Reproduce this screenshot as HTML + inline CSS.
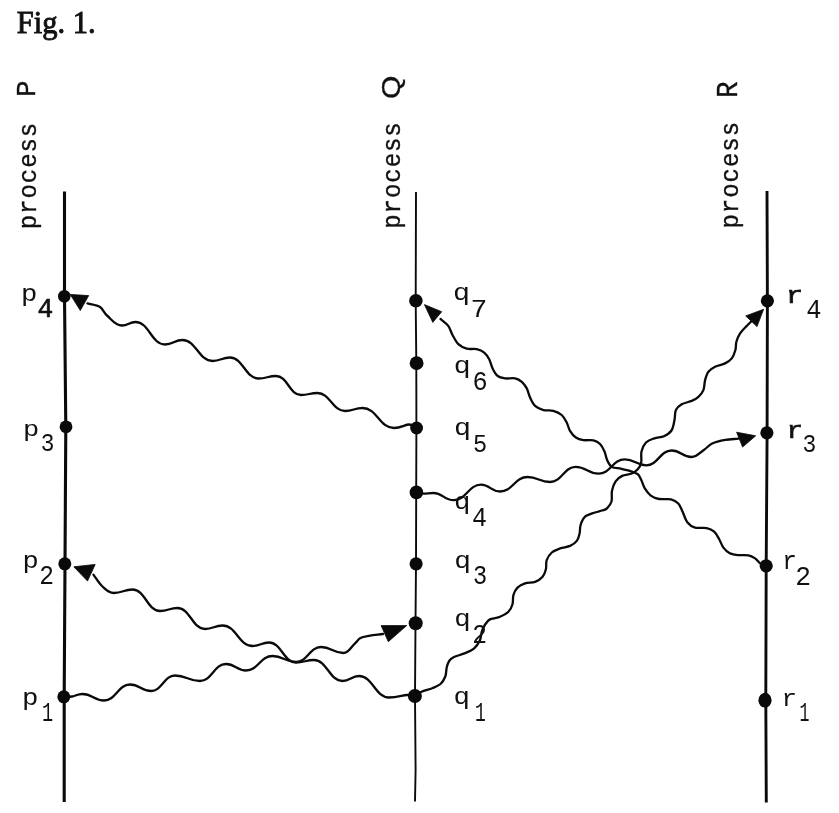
<!DOCTYPE html>
<html><head><meta charset="utf-8"><title>Fig. 1.</title>
<style>
html,body{margin:0;padding:0;background:#fff;}
body{width:839px;height:813px;overflow:hidden;position:relative;}
svg{position:absolute;left:0;top:0;display:block;}
.cap{font-family:"Liberation Serif",serif;font-size:30.5px;fill:#111;stroke:#111;stroke-width:0.9px;}
.m{font-family:"Liberation Mono",monospace;fill:#111;}
.proc{font-size:26px;stroke:#111;stroke-width:0.35px;}
.capl{font-size:28px;}
</style></head><body>
<svg width="839" height="813" viewBox="0 0 839 813">
<rect width="839" height="813" fill="#fff"/>
<text class="cap" x="16.8" y="33">Fig. 1.</text>
<g class="m proc">
<text transform="translate(36,229.3) rotate(-90) scale(0.923,1)" style="letter-spacing:1.05px">process</text>
<text transform="translate(34.8,96.9) rotate(-90)" font-size="27.6">P</text>
<text transform="translate(400.3,228.8) rotate(-90) scale(0.923,1)" style="letter-spacing:1.05px">process</text>
<text transform="translate(399.5,99) rotate(-90) scale(1.16,1)" font-size="25.9" font-family="Liberation Sans, sans-serif">Q</text>
<text transform="translate(737.9,228.5) rotate(-90) scale(0.923,1)" style="letter-spacing:1.05px">process</text>
<text transform="translate(736.9,98.1) rotate(-90) scale(0.96,1)" font-size="28.8">R</text>
</g>
<g fill="none" stroke="#0a0a0a" stroke-linecap="round" stroke-linejoin="round">
<polyline points="64.5,191.5 64.5,296 65.8,427 65,564 64.2,697 64.2,802" stroke-width="3.1" stroke-linecap="butt"/>
<polyline points="416,192 415.7,301 416.3,363 416.4,428 416.2,492 416,564 415.5,623 415,696 415.6,770 415,801.5" stroke-width="1.9" stroke-linecap="butt"/>
<polyline points="767,191 767.4,301 767.1,433 766.2,565 765.8,700 766.3,802.5" stroke-width="2.9" stroke-linecap="butt"/>
<path d="M87.5 303.4 C91.7 304.6 96.7 304.9 100.0 307.0 C103.3 309.1 103.8 312.9 107.5 316.0 C111.2 319.1 115.3 325.5 122.0 325.5 C128.2 325.5 129.3 322.0 135.5 322.0 C149.1 322.0 151.4 344.5 165.0 344.5 C173.1 344.5 174.4 340.0 182.5 340.0 C196.3 340.0 198.7 361.0 212.5 361.0 C220.6 361.0 221.9 357.5 230.0 357.5 C243.1 357.5 245.4 378.5 258.5 378.5 C266.6 378.5 267.9 376.0 276.0 376.0 C287.5 376.0 289.5 395.0 301.0 395.0 C308.6 395.0 309.9 393.0 317.5 393.0 C330.1 393.0 332.4 411.0 345.0 411.0 C353.1 411.0 354.4 408.0 362.5 408.0 C377.0 408.0 379.5 428.0 394.0 428.0 C400.9 428.0 405.3 424.5 409.0 424.5 C412.7 424.5 413.7 426.8 416.0 428.0" stroke-width="2.3"/>
<path d="M93.4 574.6 C96.3 578.4 98.6 582.9 102.0 586.0 C105.4 589.1 108.3 593.0 113.8 593.0 C122.4 593.0 123.9 589.5 132.5 589.5 C145.2 589.5 147.3 611.0 160.0 611.0 C168.1 611.0 169.4 608.0 177.5 608.0 C190.2 608.0 192.3 629.0 205.0 629.0 C213.1 629.0 214.4 625.5 222.5 625.5 C236.3 625.5 238.7 646.0 252.5 646.0 C260.1 646.0 261.4 642.5 269.0 642.5 C281.4 642.5 283.6 662.5 296.0 662.5 C304.3 662.5 305.7 660.0 314.0 660.0 C327.1 660.0 329.4 681.0 342.5 681.0 C350.1 681.0 351.4 676.0 359.0 676.0 C372.8 676.0 375.2 697.5 389.0 697.5 C397.3 697.5 402.7 695.2 407.0 695.0 C411.3 694.8 412.3 695.7 415.0 696.0" stroke-width="2.3"/>
<path d="M64.0 697.0 C66.7 696.8 68.9 697.0 72.0 696.5 C75.1 696.0 77.7 694.0 82.5 694.0 C92.4 694.0 94.1 700.5 104.0 700.5 C116.0 700.5 118.0 684.5 130.0 684.5 C139.7 684.5 141.3 691.0 151.0 691.0 C162.0 691.0 164.0 675.5 175.0 675.5 C186.5 675.5 188.5 681.0 200.0 681.0 C212.0 681.0 214.0 664.0 226.0 664.0 C235.2 664.0 236.8 670.5 246.0 670.5 C258.2 670.5 260.3 656.0 272.5 656.0 C283.3 656.0 285.2 662.0 296.0 662.0 C307.5 662.0 309.5 647.0 321.0 647.0 C331.4 647.0 333.1 653.0 343.5 653.0 C348.5 653.0 351.5 646.6 354.3 644.1 C357.1 641.6 357.9 639.4 360.5 638.0 C363.1 636.6 366.2 636.4 370.0 635.7 C373.8 635.0 378.7 634.6 383.0 634.0" stroke-width="2.3"/>
<path d="M415.0 696.0 C417.2 694.6 418.6 693.1 421.5 691.8 C424.4 690.5 429.0 689.5 432.2 688.2 C435.4 686.9 438.3 686.0 440.5 684.0 C442.7 682.0 444.2 679.3 445.3 676.5 C446.4 673.7 446.1 669.7 446.8 667.0 C447.5 664.3 448.3 662.2 449.5 660.5 C450.7 658.8 451.5 658.2 454.0 657.0 C456.5 655.8 461.1 654.8 464.4 653.4 C467.7 652.0 471.3 650.8 473.9 648.6 C476.5 646.4 478.5 643.5 479.9 640.3 C481.3 637.1 481.0 632.9 482.4 629.6 C483.8 626.3 486.3 622.5 488.2 620.6 C490.1 618.7 492.0 618.9 494.0 618.3 C496.0 617.7 497.6 617.9 500.0 616.8 C502.4 615.7 506.3 613.9 508.4 611.8 C510.5 609.7 511.7 607.1 512.5 604.3 C513.3 601.5 512.6 597.9 513.4 595.1 C514.2 592.3 515.5 589.6 517.5 587.6 C519.5 585.6 522.2 584.4 525.1 583.4 C528.0 582.4 532.2 582.9 535.1 581.8 C538.0 580.7 540.8 578.8 542.6 576.7 C544.4 574.6 545.2 572.0 545.9 569.2 C546.6 566.4 545.7 562.9 546.7 560.1 C547.7 557.3 549.6 554.5 551.8 552.5 C554.0 550.5 557.0 549.5 560.1 548.4 C563.2 547.3 567.3 547.1 570.1 545.9 C572.9 544.6 575.2 543.0 576.8 540.9 C578.4 538.8 579.0 536.0 579.6 533.4 C580.2 530.8 579.7 527.8 580.6 525.0 C581.5 522.2 582.7 518.8 585.1 516.7 C587.5 514.6 592.3 513.5 595.1 512.5 C597.9 511.5 600.0 511.2 602.0 510.5 C604.0 509.8 605.4 509.8 607.0 508.3 C608.6 506.8 610.7 504.4 611.5 501.5 C612.3 498.6 611.3 494.2 612.0 490.8 C612.7 487.4 613.9 483.8 615.6 481.3 C617.3 478.8 619.5 477.2 622.2 475.9 C624.9 474.6 629.1 474.6 631.7 473.5 C634.3 472.4 636.1 471.1 637.7 469.3 C639.3 467.5 640.6 465.5 641.2 462.5 C641.8 459.5 640.7 454.8 641.5 451.5 C642.3 448.2 643.9 444.7 646.0 442.5 C648.1 440.3 651.4 439.4 654.4 438.3 C657.4 437.2 661.0 437.5 663.9 436.2 C666.8 434.9 669.7 433.2 671.5 430.5 C673.3 427.8 673.8 423.4 674.5 420.0 C675.2 416.6 674.7 412.7 675.9 410.1 C677.1 407.5 679.1 405.8 681.7 404.3 C684.3 402.8 688.9 402.1 691.7 400.9 C694.5 399.6 696.5 398.6 698.4 396.8 C700.3 395.0 702.3 392.9 703.4 390.1 C704.5 387.3 704.3 383.2 705.1 380.1 C705.9 377.0 706.7 373.9 708.4 371.7 C710.1 369.5 712.3 368.1 715.1 366.7 C717.9 365.3 722.3 364.8 725.1 363.4 C727.9 362.0 730.1 360.6 731.8 358.4 C733.5 356.2 734.6 352.8 735.4 350.0 C736.2 347.2 735.6 344.5 736.4 341.7 C737.2 338.9 738.4 336.0 740.1 333.4 C741.8 330.8 745.0 327.8 746.8 325.9 C748.6 323.9 749.6 323.1 751.0 321.7" stroke-width="2.3"/>
<path d="M416.0 492.5 C418.6 492.9 420.9 493.5 423.8 493.6 C426.7 493.7 429.0 493.0 433.4 493.0 C442.7 493.0 444.3 500.2 453.6 500.2 C466.2 500.2 468.4 484.7 481.0 484.7 C489.7 484.7 491.3 491.5 500.0 491.5 C512.6 491.5 514.9 477.0 527.5 477.0 C537.9 477.0 539.6 482.0 550.0 482.0 C561.8 482.0 563.9 466.9 575.7 466.9 C586.2 466.9 588.0 473.7 598.5 473.7 C610.6 473.7 612.7 459.3 624.8 459.3 C634.7 459.3 636.4 465.3 646.3 465.3 C657.9 465.3 660.0 450.5 671.6 450.5 C680.8 450.5 682.3 457.0 691.5 457.0 C697.2 457.0 700.3 452.2 703.8 450.0 C707.2 447.8 708.6 445.2 712.2 443.5 C715.8 441.8 720.9 440.7 725.3 439.9 C729.7 439.1 734.0 439.1 738.4 438.7" stroke-width="2.3"/>
<path d="M440.5 318.9 C443.1 321.2 446.3 323.2 448.3 325.9 C450.3 328.6 450.8 331.9 452.5 335.0 C454.2 338.1 456.0 341.9 458.4 344.2 C460.8 346.5 463.6 347.9 466.7 348.7 C469.8 349.5 473.8 348.5 476.7 349.2 C479.6 349.9 482.1 350.9 484.2 352.6 C486.3 354.3 487.8 356.6 489.2 359.2 C490.6 361.8 491.2 365.6 492.6 368.4 C494.0 371.2 495.5 374.2 497.6 375.9 C499.7 377.6 502.2 378.0 505.1 378.4 C508.0 378.8 512.3 377.8 515.1 378.4 C517.9 379.0 519.8 380.1 521.8 381.8 C523.8 383.5 525.4 385.8 526.8 388.4 C528.2 391.0 528.7 394.7 530.1 397.6 C531.5 400.5 532.9 403.8 535.1 405.9 C537.3 408.0 540.5 409.3 543.5 410.1 C546.5 410.9 550.3 410.0 553.3 410.8 C556.3 411.6 559.5 413.1 561.7 415.0 C563.9 416.9 565.3 419.9 566.7 422.5 C568.1 425.1 568.5 428.4 570.0 430.9 C571.5 433.4 573.7 436.0 575.9 437.5 C578.1 439.0 580.5 439.6 583.4 440.1 C586.3 440.6 590.6 439.7 593.4 440.4 C596.2 441.1 598.4 442.4 600.3 444.3 C602.1 446.2 603.3 448.8 604.5 451.5 C605.7 454.2 606.0 457.9 607.3 460.5 C608.5 463.1 609.7 465.6 612.0 467.0 C614.3 468.4 617.9 468.0 621.0 468.7 C624.1 469.4 627.7 470.2 630.5 471.1 C633.3 472.0 635.9 472.6 637.7 474.1 C639.5 475.6 640.1 477.6 641.3 480.0 C642.5 482.4 643.2 485.8 644.8 488.4 C646.4 491.0 648.4 493.8 650.8 495.6 C653.2 497.4 655.7 498.4 659.1 499.0 C662.5 499.6 667.8 498.6 671.0 499.3 C674.2 500.1 676.4 501.5 678.3 503.5 C680.2 505.5 681.0 508.3 682.5 511.5 C684.0 514.7 685.4 519.8 687.5 522.5 C689.6 525.2 691.8 526.7 695.0 527.6 C698.2 528.5 703.5 527.4 706.7 528.1 C709.9 528.8 712.1 529.9 714.2 531.7 C716.3 533.6 717.7 536.6 719.2 539.2 C720.7 541.9 721.6 545.2 723.4 547.6 C725.2 550.0 727.6 552.1 730.1 553.4 C732.6 554.6 735.4 554.8 738.4 555.1 C741.4 555.4 745.6 554.9 748.4 555.4 C751.2 555.9 753.1 557.1 755.1 558.4 C757.1 559.7 758.3 562.1 760.1 563.4 C761.9 564.7 764.0 565.1 766.0 566.0" stroke-width="2.3"/>
</g>
<g fill="#0a0a0a">
<circle cx="64.3" cy="296.2" r="6.3"/><circle cx="66" cy="426.8" r="6.4"/><circle cx="64.8" cy="563.8" r="6.5"/><circle cx="63.8" cy="696.8" r="6.5"/>
<circle cx="415.9" cy="300.8" r="6.8"/><circle cx="416.6" cy="363.2" r="6.9"/><circle cx="416.6" cy="428" r="6.4"/><circle cx="416.4" cy="492.4" r="6.8"/><circle cx="416.1" cy="563.8" r="6.6"/><circle cx="415.7" cy="623.3" r="7"/><circle cx="414.9" cy="696" r="7"/>
<circle cx="767.4" cy="300.8" r="6.6"/><circle cx="766.9" cy="432.8" r="6.6"/><circle cx="766.2" cy="565.8" r="6.6"/><ellipse cx="765" cy="700.2" rx="6.6" ry="7.4"/>
</g>
<g fill="#0a0a0a" stroke="#0a0a0a" stroke-width="0.8" stroke-linejoin="round">
<polygon points="70.2,294.4 88.7,295.6 80.3,310.5"/>
<polygon points="73.8,566.8 95.2,564.4 87.5,581.1"/>
<polygon points="406.7,625.6 381.1,625.6 388.3,641.7"/>
<polygon points="424.4,304.6 441.7,311.7 432.8,322.4"/>
<polygon points="763.6,309.3 745.7,315.9 757,326.6"/>
<polygon points="755.7,435.8 736.6,432.2 742.6,447.1"/>
</g>
<g class="m">
<text transform="translate(20.91,300.96) scale(1.180,1)" font-size="23.07">p</text>
<text transform="translate(37.59,316.80) scale(0.966,1)" font-size="27.12" stroke="#111" stroke-width="0.7">4</text>
<text transform="translate(23.06,436.18) scale(1.180,1)" font-size="22.93">p</text>
<text transform="translate(40.72,451.24) scale(0.885,1)" font-size="25.74">3</text>
<text transform="translate(22.47,568.39) scale(1.133,1)" font-size="23.87">p</text>
<text transform="translate(39.28,584.10) scale(0.890,1)" font-size="27.61">2</text>
<text transform="translate(22.06,705.13) scale(1.180,1)" font-size="23.20">p</text>
<text transform="translate(42.10,721.30) scale(0.684,1)" font-size="27.12">1</text>
<text transform="translate(452.90,300.15) scale(1.180,1)" font-size="24.03">q</text>
<text transform="translate(470.59,316.50) scale(1.072,1)" font-size="26.21">7</text>
<text transform="translate(453.84,373.08) scale(1.180,1)" font-size="23.89">q</text>
<text transform="translate(472.61,390.43) scale(0.927,1)" font-size="27.21">6</text>
<text transform="translate(454.10,435.45) scale(1.180,1)" font-size="24.03">q</text>
<text transform="translate(472.96,452.13) scale(0.889,1)" font-size="26.57">5</text>
<text transform="translate(454.07,509.02) scale(1.180,1)" font-size="23.22">q</text>
<text transform="translate(472.05,525.80) scale(0.892,1)" font-size="28.03">4</text>
<text transform="translate(454.14,567.94) scale(1.180,1)" font-size="23.62">q</text>
<text transform="translate(472.96,584.23) scale(0.868,1)" font-size="27.21">3</text>
<text transform="translate(454.27,625.92) scale(1.180,1)" font-size="23.22">q</text>
<text transform="translate(472.18,642.70) scale(0.862,1)" font-size="28.51">2</text>
<text transform="translate(453.47,704.22) scale(1.180,1)" font-size="23.22">q</text>
<text transform="translate(475.05,721.00) scale(0.661,1)" font-size="27.12">1</text>
<text transform="translate(785.88,302.80) scale(1.180,1)" font-size="24.26" stroke="#111" stroke-width="0.7">r</text>
<text transform="translate(806.23,317.70) scale(0.937,1)" font-size="27.12">4</text>
<text transform="translate(786.87,437.90) scale(1.127,1)" font-size="23.89" stroke="#111" stroke-width="0.7">r</text>
<text transform="translate(802.61,452.14) scale(0.878,1)" font-size="26.18">3</text>
<text transform="translate(782.18,569.30) scale(0.960,1)" font-size="25.37">r</text>
<text transform="translate(795.16,584.60) scale(0.937,1)" font-size="28.06">2</text>
<text transform="translate(781.39,705.50) scale(1.093,1)" font-size="23.70">r</text>
<text transform="translate(799.62,721.30) scale(0.600,1)" font-size="27.58">1</text>
</g>
</svg>
</body></html>
